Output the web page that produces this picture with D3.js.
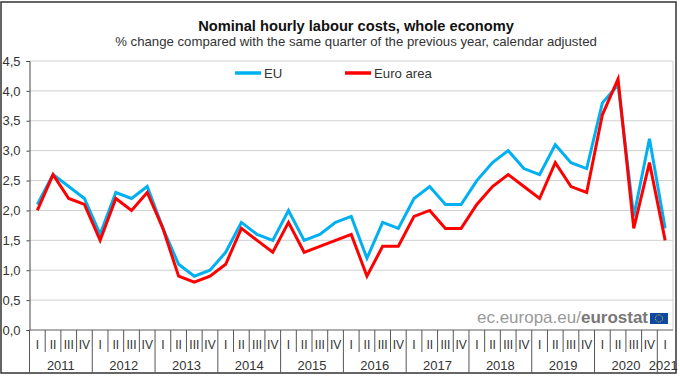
<!DOCTYPE html>
<html>
<head>
<meta charset="utf-8">
<script src="https://cdn.jsdelivr.net/npm/d3@7"></script>
<style>
  html, body { margin: 0; padding: 0; background: #fff; }
  text { font-family: "Liberation Sans", Arial, sans-serif; fill: #333; }
</style>
</head>
<body>
<div id="chart"></div>
<script>
var years = ["2011", "2012", "2013", "2014", "2015", "2016", "2017", "2018", "2019", "2020", "2021"];
var quarterNames = ["I", "II", "III", "IV"];
var yTicks = [0, 0.5, 1, 1.5, 2, 2.5, 3, 3.5, 4, 4.5];

var euValues = [2.1, 2.6, 2.4, 2.2, 1.6, 2.3, 2.2, 2.4, 1.7, 1.1, 0.9, 1.0, 1.3, 1.8, 1.6, 1.5,
                2.0, 1.5, 1.6, 1.8, 1.9, 1.2, 1.8, 1.7, 2.2, 2.4, 2.1, 2.1, 2.5, 2.8, 3.0, 2.7,
                2.6, 3.1, 2.8, 2.7, 3.8, 4.1, 1.9, 3.2, 1.7];
var euroValues = [2.0, 2.6, 2.2, 2.1, 1.5, 2.2, 2.0, 2.3, 1.7, 0.9, 0.8, 0.9, 1.1, 1.7, 1.5, 1.3,
                  1.8, 1.3, 1.4, 1.5, 1.6, 0.9, 1.4, 1.4, 1.9, 2.0, 1.7, 1.7, 2.1, 2.4, 2.6, 2.4,
                  2.2, 2.8, 2.4, 2.3, 3.6, 4.2, 1.7, 2.8, 1.5];

var w = 680, h = 377;
var plotLeft = 29.5, plotRight = 673, plotTop = 61, plotBottom = 330;

// one key per quarter, "2011-I" etc, last year only has a first quarter
var quarters = [];
years.forEach(function(y) {
    quarterNames.forEach(function(q) {
        if (y !== "2021" || q === "I") quarters.push(y + "-" + q);
    });
});

var svg = d3.select("#chart").append("svg")
    .attr("width", w)
    .attr("height", h)
    .style("display", "block");

var xScale = d3.scaleBand().domain(quarters).range([plotLeft, plotRight]);
var yScale = d3.scaleLinear().domain([0, 4.5]).range([plotBottom, plotTop]);

// outer frame
svg.append("rect")
    .attr("x", 1).attr("y", 2)
    .attr("width", 675).attr("height", 371)
    .attr("fill", "#fff")
    .attr("stroke", "#333")
    .attr("stroke-width", 1.5);

// titles
svg.append("text")
    .attr("x", 356).attr("y", 31)
    .attr("text-anchor", "middle")
    .attr("font-size", 14.65)
    .attr("font-weight", "bold")
    .style("fill", "#111")
    .text("Nominal hourly labour costs, whole economy");
svg.append("text")
    .attr("x", 356).attr("y", 46)
    .attr("text-anchor", "middle")
    .attr("font-size", 13.2)
    .text("% change compared with the same quarter of the previous year, calendar adjusted");

// gridlines
svg.append("g").selectAll("line")
    .data(yTicks)
    .join("line")
    .attr("x1", plotLeft).attr("x2", plotRight)
    .attr("y1", function(d) { return yScale(d); })
    .attr("y2", function(d) { return yScale(d); })
    .attr("stroke", "#d0d0d0")
    .attr("stroke-width", 1);

// right edge of the plot
svg.append("line")
    .attr("x1", plotRight).attr("x2", plotRight)
    .attr("y1", plotTop).attr("y2", plotBottom)
    .attr("stroke", "#d0d0d0");

// Y axis
var yAxis = d3.axisLeft(yScale)
    .tickValues(yTicks)
    .tickSize(3)
    .tickFormat(function(d) { return d3.format(".1f")(d).replace(".", ","); });
var yG = svg.append("g")
    .attr("transform", "translate(" + plotLeft + ",0)")
    .call(yAxis);
yG.selectAll("path, line").attr("stroke", "#444");
yG.selectAll("text").attr("font-size", 13).attr("font-family", null).attr("x", -9);

// X axis, quarter labels
var xAxis = d3.axisBottom(xScale)
    .tickSize(0)
    .tickPadding(10)
    .tickFormat(function(d) { return d.split("-")[1]; });
var xG = svg.append("g")
    .attr("transform", "translate(0," + plotBottom + ")")
    .call(xAxis);
xG.select("path").remove();
xG.selectAll("text").attr("font-size", 12).attr("font-family", null);

svg.append("line")
    .attr("x1", plotLeft).attr("x2", plotRight)
    .attr("y1", plotBottom).attr("y2", plotBottom)
    .attr("stroke", "#777")
    .attr("stroke-width", 1.2);

// quarter separators
svg.append("g").selectAll("line")
    .data(quarters.filter(function(d) { return d.split("-")[1] !== "I"; }))
    .join("line")
    .attr("x1", function(d) { return xScale(d); })
    .attr("x2", function(d) { return xScale(d); })
    .attr("y1", plotBottom).attr("y2", plotBottom + 22)
    .attr("stroke", "#555");

// year separators and labels
svg.append("g").selectAll("line")
    .data(years)
    .join("line")
    .attr("x1", function(d) { return xScale(d + "-I"); })
    .attr("x2", function(d) { return xScale(d + "-I"); })
    .attr("y1", plotBottom).attr("y2", 373)
    .attr("stroke", "#555");

svg.append("g").selectAll("text")
    .data(years)
    .join("text")
    .attr("x", function(d) {
        if (d === "2021") return xScale(d + "-I") + 6;
        return xScale(d + "-I") + xScale.bandwidth() * 2;
    })
    .attr("y", 370)
    .attr("text-anchor", "middle")
    .attr("font-size", 13)
    .text(function(d) { return d; });

// lines
var line = d3.line()
    .x(function(d, i) { return xScale(quarters[i]) + xScale.bandwidth() / 2; })
    .y(function(d) { return yScale(d); });

svg.append("path")
    .datum(euValues)
    .attr("d", line)
    .attr("fill", "none")
    .attr("stroke", "#00b0f0")
    .attr("stroke-width", 3);

svg.append("path")
    .datum(euroValues)
    .attr("d", line)
    .attr("fill", "none")
    .attr("stroke", "#ff0000")
    .attr("stroke-width", 3);

// legend
var legend = [
    { name: "EU", color: "#00b0f0", x: 235 },
    { name: "Euro area", color: "#ff0000", x: 345 }
];
legend.forEach(function(d) {
    svg.append("line")
        .attr("x1", d.x).attr("x2", d.x + 26)
        .attr("y1", 73).attr("y2", 73)
        .attr("stroke", d.color)
        .attr("stroke-width", 3.5);
    svg.append("text")
        .attr("x", d.x + 29).attr("y", 77.5)
        .attr("font-size", 13.2)
        .text(d.name);
});

// eurostat credit
var credit = svg.append("text")
    .attr("x", 648).attr("y", 323)
    .attr("text-anchor", "end")
    .attr("font-size", 17)
    .style("fill", "#999");
credit.append("tspan").text("ec.europa.eu/");
credit.append("tspan").attr("font-weight", "bold").style("fill", "#777").text("eurostat");

svg.append("rect")
    .attr("x", 650).attr("y", 313)
    .attr("width", 18).attr("height", 11)
    .attr("fill", "#0f47a1");
svg.append("circle")
    .attr("cx", 659).attr("cy", 318.5).attr("r", 3.6)
    .attr("fill", "none")
    .attr("stroke", "#d9c92a")
    .attr("stroke-width", 1)
    .attr("stroke-dasharray", "1 0.9");
</script>
</body>
</html>
